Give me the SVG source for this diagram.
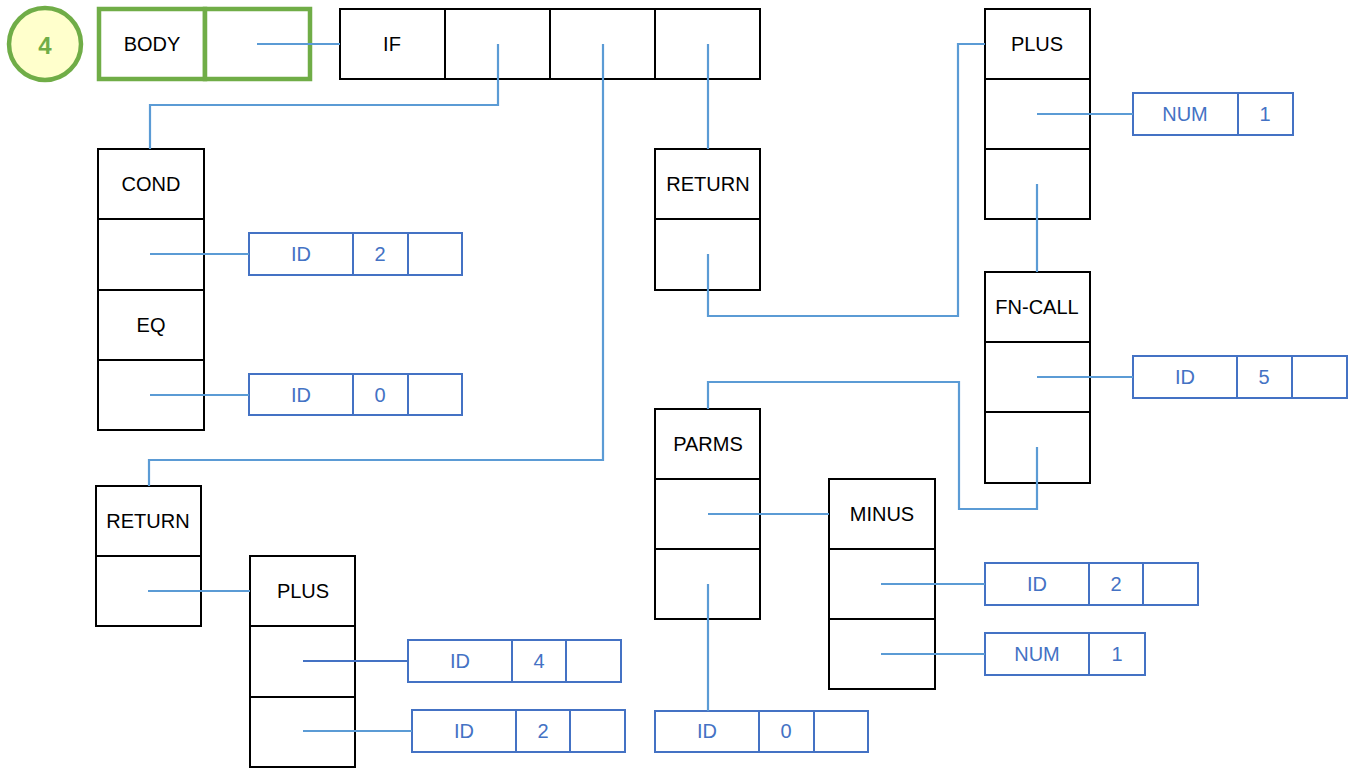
<svg xmlns="http://www.w3.org/2000/svg" width="1354" height="768" viewBox="0 0 1354 768">
  <style>
    .cell { fill: #ffffff; stroke: #000000; stroke-width: 2; }
    .leaf { fill: #ffffff; stroke: #4472C4; stroke-width: 2; }
    .root { fill: #ffffff; stroke: #70AD47; stroke-width: 4.5; }
    .lbl { font-family: "Liberation Sans", Arial, sans-serif; font-size: 20px; fill: #000000; text-anchor: middle; dominant-baseline: central; }
    .val { font-family: "Liberation Sans", Arial, sans-serif; font-size: 20px; fill: #4472C4; text-anchor: middle; dominant-baseline: central; }
    .wire { fill: none; stroke: #5B9BD5; stroke-width: 2.2; }
  </style>

  <!-- step badge -->
  <g id="badge">
    <circle cx="45" cy="44" r="36" fill="#FFFFCC" stroke="#70AD47" stroke-width="4.5"/>
    <text x="45" y="45" font-family="Liberation Sans, Arial, sans-serif" font-size="24" font-weight="bold" fill="#70AD47" text-anchor="middle" dominant-baseline="central">4</text>
  </g>

  <!-- BODY -->
  <g id="body">
    <rect class="root" x="99" y="9" width="106" height="70"/>
    <rect class="root" x="205" y="9" width="105" height="70"/>
    <text class="lbl" x="152" y="44">BODY</text>
  </g>

  <!-- IF -->
  <g id="if">
    <rect class="cell" x="340" y="9" width="105" height="70"/>
    <rect class="cell" x="445" y="9" width="105" height="70"/>
    <rect class="cell" x="550" y="9" width="105" height="70"/>
    <rect class="cell" x="655" y="9" width="105" height="70"/>
    <text class="lbl" x="392" y="44">IF</text>
  </g>

  <!-- COND / EQ -->
  <g id="cond">
    <rect class="cell" x="98" y="149" width="106" height="70"/>
    <rect class="cell" x="98" y="219" width="106" height="71"/>
    <rect class="cell" x="98" y="290" width="106" height="70"/>
    <rect class="cell" x="98" y="360" width="106" height="70"/>
    <text class="lbl" x="151" y="184">COND</text>
    <text class="lbl" x="151" y="325">EQ</text>
  </g>

  <g id="cond-id2">
    <rect class="leaf" x="249" y="233" width="104" height="42"/>
    <rect class="leaf" x="353" y="233" width="55" height="42"/>
    <rect class="leaf" x="408" y="233" width="54" height="42"/>
    <text class="val" x="301" y="254">ID</text>
    <text class="val" x="380" y="254">2</text>
  </g>

  <g id="cond-id0">
    <rect class="leaf" x="249" y="374" width="104" height="41"/>
    <rect class="leaf" x="353" y="374" width="55" height="41"/>
    <rect class="leaf" x="408" y="374" width="54" height="41"/>
    <text class="val" x="301" y="395">ID</text>
    <text class="val" x="380" y="395">0</text>
  </g>

  <!-- RETURN (else branch) -->
  <g id="return-else">
    <rect class="cell" x="655" y="149" width="105" height="70"/>
    <rect class="cell" x="655" y="219" width="105" height="71"/>
    <text class="lbl" x="708" y="184">RETURN</text>
  </g>

  <!-- PLUS (top right) -->
  <g id="plus-top">
    <rect class="cell" x="985" y="9" width="105" height="70"/>
    <rect class="cell" x="985" y="79" width="105" height="70"/>
    <rect class="cell" x="985" y="149" width="105" height="70"/>
    <text class="lbl" x="1037" y="44">PLUS</text>
  </g>

  <g id="plus-num1">
    <rect class="leaf" x="1133" y="93" width="105" height="42"/>
    <rect class="leaf" x="1238" y="93" width="55" height="42"/>
    <text class="val" x="1185" y="114">NUM</text>
    <text class="val" x="1265" y="114">1</text>
  </g>

  <!-- FN-CALL -->
  <g id="fncall">
    <rect class="cell" x="985" y="272" width="105" height="70"/>
    <rect class="cell" x="985" y="342" width="105" height="70"/>
    <rect class="cell" x="985" y="412" width="105" height="71"/>
    <text class="lbl" x="1037" y="307">FN-CALL</text>
  </g>

  <g id="fncall-id5">
    <rect class="leaf" x="1133" y="356" width="104" height="42"/>
    <rect class="leaf" x="1237" y="356" width="55" height="42"/>
    <rect class="leaf" x="1292" y="356" width="55" height="42"/>
    <text class="val" x="1185" y="377">ID</text>
    <text class="val" x="1264" y="377">5</text>
  </g>

  <!-- PARMS -->
  <g id="parms">
    <rect class="cell" x="655" y="409" width="105" height="70"/>
    <rect class="cell" x="655" y="479" width="105" height="70"/>
    <rect class="cell" x="655" y="549" width="105" height="70"/>
    <text class="lbl" x="708" y="444">PARMS</text>
  </g>

  <g id="parms-id0">
    <rect class="leaf" x="655" y="711" width="104" height="41"/>
    <rect class="leaf" x="759" y="711" width="55" height="41"/>
    <rect class="leaf" x="814" y="711" width="54" height="41"/>
    <text class="val" x="707" y="731">ID</text>
    <text class="val" x="786" y="731">0</text>
  </g>

  <!-- MINUS -->
  <g id="minus">
    <rect class="cell" x="829" y="479" width="106" height="70"/>
    <rect class="cell" x="829" y="549" width="106" height="70"/>
    <rect class="cell" x="829" y="619" width="106" height="70"/>
    <text class="lbl" x="882" y="514">MINUS</text>
  </g>

  <g id="minus-id2">
    <rect class="leaf" x="985" y="563" width="104" height="42"/>
    <rect class="leaf" x="1089" y="563" width="54" height="42"/>
    <rect class="leaf" x="1143" y="563" width="55" height="42"/>
    <text class="val" x="1037" y="584">ID</text>
    <text class="val" x="1116" y="584">2</text>
  </g>

  <g id="minus-num1">
    <rect class="leaf" x="985" y="633" width="104" height="42"/>
    <rect class="leaf" x="1089" y="633" width="56" height="42"/>
    <text class="val" x="1037" y="654">NUM</text>
    <text class="val" x="1117" y="654">1</text>
  </g>

  <!-- RETURN (then branch) -->
  <g id="return-then">
    <rect class="cell" x="96" y="486" width="105" height="70"/>
    <rect class="cell" x="96" y="556" width="105" height="70"/>
    <text class="lbl" x="148" y="521">RETURN</text>
  </g>

  <!-- PLUS (bottom) -->
  <g id="plus-bottom">
    <rect class="cell" x="250" y="556" width="105" height="70"/>
    <rect class="cell" x="250" y="626" width="105" height="71"/>
    <rect class="cell" x="250" y="697" width="105" height="70"/>
    <text class="lbl" x="303" y="591">PLUS</text>
  </g>

  <g id="plus-id4">
    <rect class="leaf" x="408" y="640" width="104" height="42"/>
    <rect class="leaf" x="512" y="640" width="54" height="42"/>
    <rect class="leaf" x="566" y="640" width="55" height="42"/>
    <text class="val" x="460" y="661">ID</text>
    <text class="val" x="539" y="661">4</text>
  </g>

  <g id="plus-id2">
    <rect class="leaf" x="412" y="710" width="104" height="42"/>
    <rect class="leaf" x="516" y="710" width="54" height="42"/>
    <rect class="leaf" x="570" y="710" width="55" height="42"/>
    <text class="val" x="464" y="731">ID</text>
    <text class="val" x="543" y="731">2</text>
  </g>

  <!-- connectors: drawn over the cells, starting from each pointer slot's centre -->
  <g id="connectors" class="wire">
    <path d="M257,44 H340"/>
    <path d="M498,44 V105 H150 V149"/>
    <path d="M603,44 V460 H149 V486"/>
    <path d="M708,44 V149"/>
    <path d="M150,254 H249"/>
    <path d="M150,395 H249"/>
    <path d="M708,254 V316 H958 V44 H985"/>
    <path d="M1037,114 H1133"/>
    <path d="M1037,184 V272"/>
    <path d="M1037,377 H1133"/>
    <path d="M1037,447 V509 H959 V382 H708 V409"/>
    <path d="M708,514 H829"/>
    <path d="M708,584 V711"/>
    <path d="M881,584 H985"/>
    <path d="M881,654 H985"/>
    <path d="M148,591 H250"/>
    <path d="M303,661 H408" style="stroke:#4472C4"/>
    <path d="M303,731 H412"/>
  </g>
</svg>
